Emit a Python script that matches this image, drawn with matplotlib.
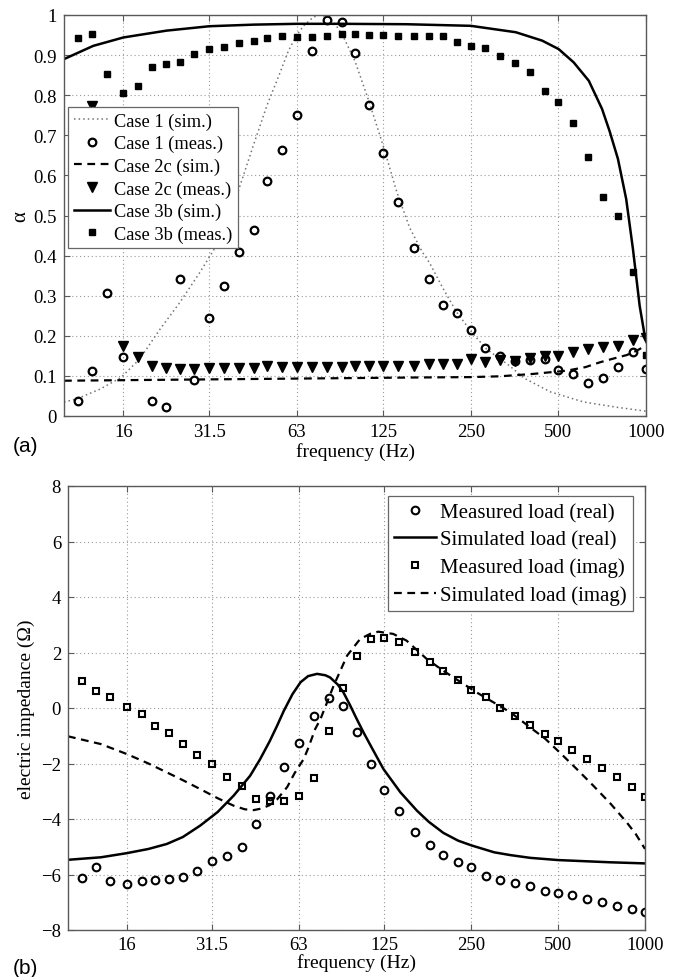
import numpy as np
import matplotlib
matplotlib.use("Agg")
import matplotlib.pyplot as plt
from matplotlib.ticker import FixedLocator, FixedFormatter, NullLocator

plt.rcParams['font.family'] = ['Liberation Serif', 'DejaVu Serif']
plt.rcParams['axes.unicode_minus'] = True

# ---------------- data ----------------
freq_meas = [11.2, 12.5, 14, 16, 18, 20, 22.4, 25, 28, 31.5, 35.5, 40, 45, 50, 56, 63, 71, 80, 90,
             100, 112, 125, 140, 160, 180, 200, 224, 250, 280, 315, 355, 400, 450, 500, 560, 630,
             710, 800, 900, 1000]

# (a) absorption coefficient
case1_meas = [0.038, 0.113, 0.307, 0.146, 0.55, 0.037, 0.022, 0.342, 0.090, 0.244, 0.325, 0.408,
              0.463, 0.585, 0.663, 0.751, 0.909, 0.988, 0.983, 0.904, 0.776, 0.655, 0.533, 0.420,
              0.341, 0.277, 0.256, 0.214, 0.169, 0.149, 0.138, 0.140, 0.142, 0.114, 0.105, 0.083,
              0.094, 0.121, 0.159, 0.117]
case2c_meas = [0.70, 0.772, 0.60, 0.174, 0.146, 0.124, 0.119, 0.117, 0.117, 0.119, 0.119, 0.119,
               0.119, 0.125, 0.121, 0.121, 0.121, 0.121, 0.121, 0.125, 0.125, 0.125, 0.125, 0.125,
               0.130, 0.130, 0.130, 0.142, 0.134, 0.140, 0.138, 0.144, 0.149, 0.150, 0.159, 0.167,
               0.171, 0.175, 0.190, 0.194]
case3b_meas = [0.942, 0.953, 0.853, 0.805, 0.824, 0.871, 0.877, 0.884, 0.903, 0.916, 0.921, 0.929,
               0.936, 0.943, 0.948, 0.946, 0.944, 0.948, 0.952, 0.953, 0.951, 0.951, 0.948, 0.947,
               0.947, 0.947, 0.932, 0.923, 0.918, 0.898, 0.881, 0.858, 0.810, 0.782, 0.730, 0.646,
               0.545, 0.498, 0.358, 0.152]

case1_sim_f = [10, 11, 13.3, 15.7, 18.2, 21.4, 25, 29.3, 33.4, 39.2, 44.7, 49.8, 54.5, 59, 63, 67,
               72, 76, 81, 86, 92, 100, 112, 125, 139, 154, 170, 181, 200, 223, 251, 283, 340, 380,
               470, 610, 790, 1000]
case1_sim = [0.035, 0.042, 0.067, 0.096, 0.142, 0.217, 0.283, 0.358, 0.425, 0.549, 0.674, 0.774,
             0.845, 0.91, 0.95, 0.975, 0.995, 1.0, 0.995, 0.975, 0.94, 0.885, 0.782, 0.674, 0.56,
             0.47, 0.41, 0.38, 0.32, 0.26, 0.21, 0.167, 0.125, 0.095, 0.06, 0.035, 0.022, 0.012]

case2c_sim_f = [10, 20, 40, 80, 160, 250, 315, 410, 534, 620, 695, 780, 859, 930, 1000]
case2c_sim = [0.088, 0.090, 0.092, 0.094, 0.096, 0.097, 0.099, 0.105, 0.113, 0.122, 0.134, 0.144,
              0.152, 0.163, 0.176]

case3b_sim_f = [10, 12.6, 16, 22.5, 31.6, 45, 63, 90, 150, 250, 357, 440, 501, 564, 636, 706, 750,
                801, 855, 902, 951, 990, 1000]
case3b_sim = [0.890, 0.923, 0.944, 0.961, 0.972, 0.976, 0.978, 0.978, 0.977, 0.973, 0.957, 0.936,
              0.915, 0.882, 0.836, 0.766, 0.71, 0.641, 0.541, 0.416, 0.275, 0.200, 0.19]

# (b) electric impedance
real_meas = [-6.13, -5.72, -6.22, -6.34, -6.25, -6.19, -6.16, -6.08, -5.86, -5.50, -5.33, -5.00,
             -4.18, -3.16, -2.11, -1.26, -0.28, 0.35, 0.08, -0.88, -2.02, -2.94, -3.70, -4.48,
             -4.94, -5.30, -5.56, -5.72, -6.07, -6.19, -6.31, -6.43, -6.59, -6.68, -6.74, -6.88,
             -7.00, -7.12, -7.24, -7.35]
imag_meas = [0.96, 0.61, 0.39, 0.04, -0.22, -0.66, -0.90, -1.30, -1.68, -2.01, -2.48, -2.82,
             -3.28, -3.34, -3.34, -3.16, -2.53, -0.83, 0.71, 1.89, 2.49, 2.51, 2.38, 2.03, 1.67,
             1.32, 1.01, 0.66, 0.38, 0.01, -0.30, -0.60, -0.94, -1.20, -1.50, -1.84, -2.17, -2.50,
             -2.86, -3.22]

real_sim_f = [10, 13, 16, 19, 22, 25, 28.7, 33, 37.5, 42.8, 46.3, 50, 53, 56, 60, 64, 68, 73, 78,
              81, 86, 90, 95, 100, 106, 112, 124, 142, 162, 178, 200, 225, 250, 300, 341, 400, 500,
              757, 1000]
real_sim = [-5.47, -5.38, -5.23, -5.08, -4.90, -4.65, -4.24, -3.75, -3.16, -2.44, -1.85, -1.2,
            -0.65, -0.1, 0.5, 0.93, 1.15, 1.23, 1.18, 1.1, 0.85, 0.57, 0.1, -0.38, -0.9, -1.36,
            -2.2, -3.04, -3.7, -4.1, -4.5, -4.78, -4.95, -5.2, -5.3, -5.4, -5.48, -5.56, -5.6]

imag_sim_f = [10, 13, 16, 19, 22, 25, 28.7, 33, 37.5, 41, 44, 47, 50, 53, 57.5, 61, 65.6, 68,
              71.9, 75, 83.3, 92.8, 103, 112, 119, 134, 149, 175, 200, 260, 341, 400, 450, 506,
              580, 662, 760, 864, 930, 1000]
imag_sim = [-1.02, -1.3, -1.66, -2.0, -2.32, -2.6, -2.92, -3.25, -3.52, -3.65, -3.68, -3.62, -3.5,
            -3.3, -2.85, -2.35, -1.84, -1.45, -0.76, -0.4, 0.8, 1.89, 2.49, 2.68, 2.75, 2.67, 2.43,
            1.77, 1.34, 0.57, -0.15, -0.7, -1.1, -1.6, -2.2, -2.8, -3.45, -4.12, -4.55, -5.08]

xtick_vals = [16, 31.5, 63, 125, 250, 500, 1000]
xtick_labels = ['16', '31.5', '63', '125', '250', '500', '1000']
ya_ticks = [0, 0.1, 0.2, 0.3, 0.4, 0.5, 0.6, 0.7, 0.8, 0.9, 1.0]
ya_labels = ['0', '0.1', '0.2', '0.3', '0.4', '0.5', '0.6', '0.7', '0.8', '0.9', '1']
yb_ticks = [-8, -6, -4, -2, 0, 2, 4, 6, 8]

# ---------------- figure ----------------
W, H = 686, 978
fig = plt.figure(figsize=(W / 100, H / 100), dpi=100)

def px_axes(l, t, r, b):
    return fig.add_axes([l / W, 1 - b / H, (r - l) / W, (b - t) / H])

ax1 = px_axes(64, 16, 646, 417)
ax2 = px_axes(68, 487, 645, 931)

TICK_FS = 13.5
SPINE_C = '0.35'

def style(ax, pad=5):
    ax.set_xscale('log')
    ax.set_xlim(10, 1000)
    ax.xaxis.set_major_locator(FixedLocator(xtick_vals))
    ax.xaxis.set_major_formatter(FixedFormatter(xtick_labels))
    ax.xaxis.set_minor_locator(NullLocator())
    ax.yaxis.set_minor_locator(NullLocator())
    ax.tick_params(axis='both', which='major', direction='in', length=4, width=0.8,
                   color=SPINE_C, top=True, right=True, labelsize=TICK_FS, pad=5)
    ax.tick_params(axis='x', pad=pad)
    ax.grid(True, which='major', linestyle=(0, (1, 2.5)), color='0.6', linewidth=0.8)
    ax.set_axisbelow(True)
    for s in ax.spines.values():
        s.set_color(SPINE_C)
        s.set_linewidth(1.0)

# ---- panel (a) ----
style(ax1)
ax1.set_ylim(0, 1)
ax1.set_yticks(ya_ticks)
ax1.set_yticklabels(ya_labels)

ax1.plot(case1_sim_f, case1_sim, linestyle=(0, (1, 2)), color='0.45', lw=1.1,
         label='Case 1 (sim.)')
ax1.plot(freq_meas, case1_meas, 'o', ms=5.5, mfc='none', mec='black', mew=1.6,
         label='Case 1 (meas.)')
ax1.plot(case2c_sim_f, case2c_sim, color='black', lw=1.6, dashes=(3.5, 2.5),
         label='Case 2c (sim.)')
ax1.plot(freq_meas, case2c_meas, 'v', ms=6.5, color='black', mec='black',
         label='Case 2c (meas.)')
ax1.plot(case3b_sim_f, case3b_sim, '-', color='black', lw=1.8, label='Case 3b (sim.)')
ax1.plot(freq_meas, case3b_meas, 's', ms=4.0, color='black', mec='black',
         label='Case 3b (meas.)')

ax1.set_ylabel('α', fontsize=15)
ax1.yaxis.set_label_coords(-0.058, 0.5)
ax1.set_xlabel('frequency (Hz)', fontsize=14)
ax1.xaxis.set_label_coords(0.5, -0.066)

leg1 = ax1.legend(loc='upper left', bbox_to_anchor=(0.007, 0.771), borderaxespad=0,
                  fontsize=13.2, frameon=True, fancybox=False, framealpha=1,
                  edgecolor='0.4', handlelength=2.0, handletextpad=0.2,
                  labelspacing=0.29, borderpad=0.3)
leg1.get_frame().set_linewidth(0.9)

# ---- panel (b) ----
style(ax2, pad=4)
ax2.set_ylim(-8, 8)
ax2.set_yticks(yb_ticks)

ax2.plot(freq_meas, real_meas, 'o', ms=5.5, mfc='none', mec='black', mew=1.5,
         label='Measured load (real)')
ax2.plot(real_sim_f, real_sim, '-', color='black', lw=1.8, label='Simulated load (real)')
ax2.plot(freq_meas, imag_meas, 's', ms=4.6, mfc='none', mec='black', mew=1.5,
         label='Measured load (imag)')
ax2.plot(imag_sim_f, imag_sim, color='black', lw=1.6, dashes=(3.5, 2.5),
         label='Simulated load (imag)')

ax2.set_ylabel('electric impedance (Ω)', fontsize=14)
ax2.yaxis.set_label_coords(-0.057, 0.5)
ax2.set_xlabel('frequency (Hz)', fontsize=14)
ax2.xaxis.set_label_coords(0.5, -0.053)

leg2 = ax2.legend(loc='upper right', bbox_to_anchor=(0.979, 0.977), borderaxespad=0,
                  fontsize=15.0, frameon=True, fancybox=False, framealpha=1,
                  edgecolor='0.4', handlelength=2.0, handletextpad=0.2,
                  labelspacing=0.38, borderpad=0.3)
leg2.get_frame().set_linewidth(0.9)

fig.text(13 / W, 1 - 447 / H, '(a)', fontsize=15, family=['Liberation Sans', 'DejaVu Sans'],
         ha='left', va='center')
fig.text(13 / W, 1 - 969 / H, '(b)', fontsize=15, family=['Liberation Sans', 'DejaVu Sans'],
         ha='left', va='center')

fig.savefig('out.png', dpi=100)
